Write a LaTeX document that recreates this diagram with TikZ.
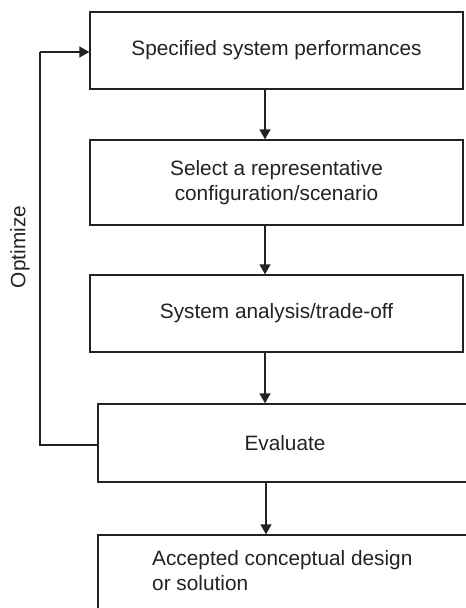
\documentclass[tikz,border=0pt]{standalone}
\usepackage{fontspec}
\setmainfont{Liberation Sans}
\usetikzlibrary{arrows.meta}
\definecolor{ink}{HTML}{222222}
\begin{document}
\begin{tikzpicture}[x=1pt, y=-1pt,
  every node/.style={text=ink, font=\fontsize{20.8}{25}\selectfont},
  box/.style={draw=ink, line width=1.3pt, rectangle, inner sep=0pt, align=center},
  flow/.style={draw=ink, line width=1.3pt, -{Triangle[length=10pt, width=11pt]}},
  loopline/.style={draw=ink, line width=1.3pt}]
  \useasboundingbox (0,0) rectangle (466,608);
  \clip (0,0) rectangle (466,608);

  % main column of process boxes
  \node[box, minimum width=373pt, minimum height=77pt] (spec) at (276.5,50.5)
    {Specified system performances};
  \node[box, minimum width=373pt, minimum height=85pt] (select) at (276.5,182.5)
    {Select a representative\\configuration/scenario};
  \node[box, minimum width=373pt, minimum height=77pt] (analysis) at (276.5,313.5)
    {System analysis/trade-off};
  \node[box, minimum width=380pt, minimum height=78pt] (eval) at (288,443)
    {\hspace*{-6pt}Evaluate};
  \node[box, minimum width=380pt, minimum height=90pt] (accept) at (288,580) {};
  \node[anchor=north west, align=left, inner sep=0pt] (accepttext) at (152,550)
    {Accepted conceptual design\\or solution};

  % downward flow
  \draw[flow] (spec.south -| 265,0) -- (select.north -| 265,0);
  \draw[flow] (select.south -| 265,0) -- (analysis.north -| 265,0);
  \draw[flow] (analysis.south -| 265,0) -- (eval.north -| 265,0);
  \draw[flow] (eval.south -| 266,0) -- (accept.north -| 266,0);

  % optimisation feedback loop
  \coordinate (loopbot) at (40,445);
  \coordinate (looptop) at (40,52);
  \draw[loopline] (eval.west |- loopbot) -- (loopbot) -- (looptop);
  \draw[flow] (looptop) -- (spec.west |- looptop);
  \node[rotate=90] (opt) at (20,247) {Optimize};
\end{tikzpicture}
\end{document}
